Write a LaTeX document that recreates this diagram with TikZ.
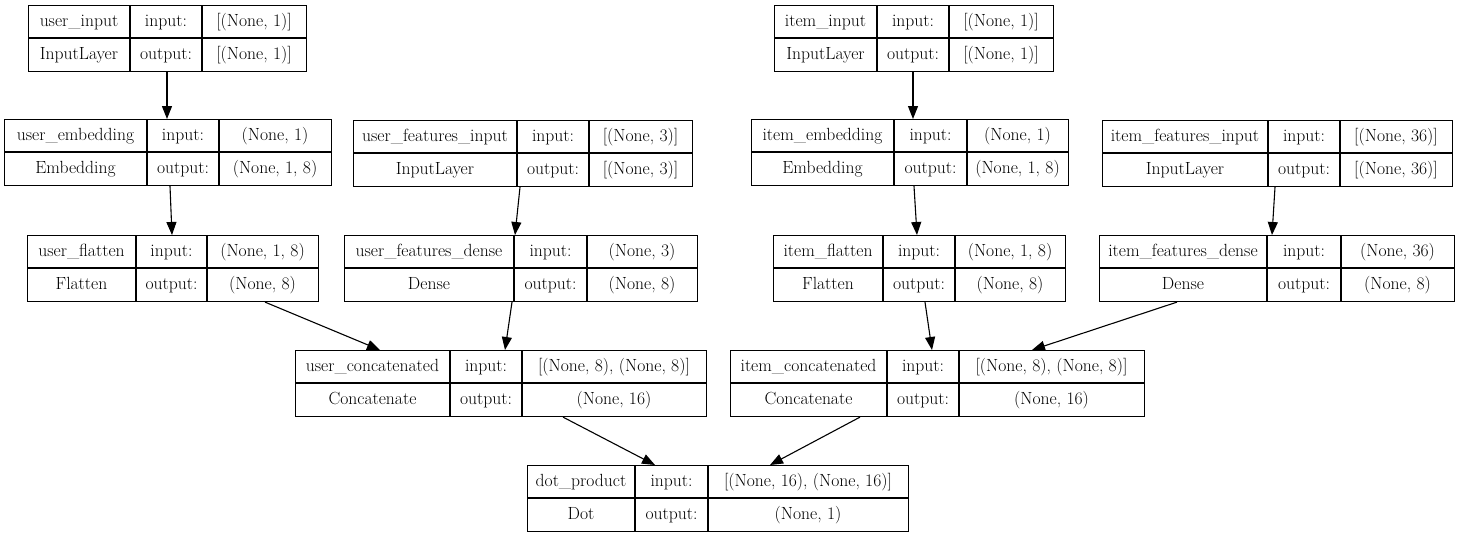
\documentclass[tikz,border=0pt]{standalone}
\usepackage{fontspec}
\usetikzlibrary{arrows.meta}
\tikzset{
  recbox/.style={draw, line width=1.1pt, inner sep=0pt, minimum height=66pt},
  recline/.style={line width=1.1pt},
  rectext/.style={inner sep=0pt, text height=12.5pt, text depth=4pt, font=\rmfamily\fontsize{17.6}{20}\selectfont},
  arr/.style={line width=1.1pt, -{Triangle[length=13pt,width=10pt]}}
}
\newcommand\rec[9]{\def\rN{#1}\def\rxa{#2}\def\rda{#3}\def\rdb{#4}\def\rxb{#5}\def\rya{#6}\def\rL{#7}\def\rT{#8}\def\rI{#9}\recfin}
\newcommand\recfin[1]{%
  \node[recbox, minimum width={(\rxb-\rxa)*1pt}, anchor=north west] (\rN) at (\rxa,\rya) {};
  \draw[recline] (\rda,\rya) -- (\rda,{\rya+66});
  \draw[recline] (\rdb,\rya) -- (\rdb,{\rya+66});
  \draw[recline] (\rxa,{\rya+33}) -- (\rxb,{\rya+33});
  \node[rectext] (\rN-l) at ({(\rxa+\rda)/2},{\rya+17}) {\rL};
  \node[rectext] (\rN-t) at ({(\rxa+\rda)/2},{\rya+50}) {\rT};
  \node[rectext] (\rN-il) at ({(\rda+\rdb)/2},{\rya+17}) {input:};
  \node[rectext] (\rN-ol) at ({(\rda+\rdb)/2},{\rya+50}) {output:};
  \node[rectext] (\rN-i) at ({(\rdb+\rxb)/2},{\rya+17}) {\rI};
  \node[rectext] (\rN-o) at ({(\rdb+\rxb)/2},{\rya+50}) {#1};
}
\begin{document}
\begin{tikzpicture}[x=1pt,y=-1pt]
\useasboundingbox[fill=white] (0,0) rectangle (1458,536);
\rec{ui}{28}{130}{202}{306}{5}{user\_input}{InputLayer}{[(None, 1)]}{[(None, 1)]}
\rec{ue}{4}{147}{219}{331}{119}{user\_embedding}{Embedding}{(None, 1)}{(None, 1, 8)}
\rec{ufi}{353}{517}{589}{692}{120}{user\_features\_input}{InputLayer}{[(None, 3)]}{[(None, 3)]}
\rec{uf}{27}{136}{207}{318}{235}{user\_flatten}{Flatten}{(None, 1, 8)}{(None, 8)}
\rec{ufd}{344}{514}{587}{697}{235}{user\_features\_dense}{Dense}{(None, 3)}{(None, 8)}
\rec{uc}{295}{450}{522}{706}{350}{user\_concatenated}{Concatenate}{[(None, 8), (None, 8)]}{(None, 16)}
\rec{dp}{527}{635}{708}{908}{465}{dot\_product}{Dot}{[(None, 16), (None, 16)]}{(None, 1)}
\rec{ii}{774}{877}{949}{1053}{5}{item\_input}{InputLayer}{[(None, 1)]}{[(None, 1)]}
\rec{ie}{751}{894}{967}{1068}{119}{item\_embedding}{Embedding}{(None, 1)}{(None, 1, 8)}
\rec{ifi}{1102}{1268}{1340}{1452}{120}{item\_features\_input}{InputLayer}{[(None, 36)]}{[(None, 36)]}
\rec{if}{773}{883}{955}{1065}{235}{item\_flatten}{Flatten}{(None, 1, 8)}{(None, 8)}
\rec{ifd}{1099}{1267}{1341}{1454}{235}{item\_features\_dense}{Dense}{(None, 36)}{(None, 8)}
\rec{ic}{730}{887}{959}{1144}{350}{item\_concatenated}{Concatenate}{[(None, 8), (None, 8)]}{(None, 16)}
% connectors
\draw[arr] ([xshift=139pt]ui.south west) -- ([xshift=163pt]ue.north west);
\draw[arr] ([xshift=166pt]ue.south west) -- ([xshift=145pt]uf.north west);
\draw[arr] ([xshift=167pt]ufi.south west) -- ([xshift=171pt]ufd.north west);
\draw[arr] ([xshift=238pt]uf.south west) -- ([xshift=85pt]uc.north west);
\draw[arr] ([xshift=168pt]ufd.south west) -- ([xshift=210pt]uc.north west);
\draw[arr] ([xshift=268pt]uc.south west) -- ([xshift=128pt]dp.north west);
\draw[arr] ([xshift=130pt]ic.south west) -- ([xshift=243pt]dp.north west);
\draw[arr] ([xshift=139pt]ii.south west) -- ([xshift=162pt]ie.north west);
\draw[arr] ([xshift=163pt]ie.south west) -- ([xshift=144pt]if.north west);
\draw[arr] ([xshift=173pt]ifi.south west) -- ([xshift=173pt]ifd.north west);
\draw[arr] ([xshift=152pt]if.south west) -- ([xshift=202pt]ic.north west);
\draw[arr] ([xshift=78pt]ifd.south west) -- ([xshift=302pt]ic.north west);
\end{tikzpicture}
\end{document}
